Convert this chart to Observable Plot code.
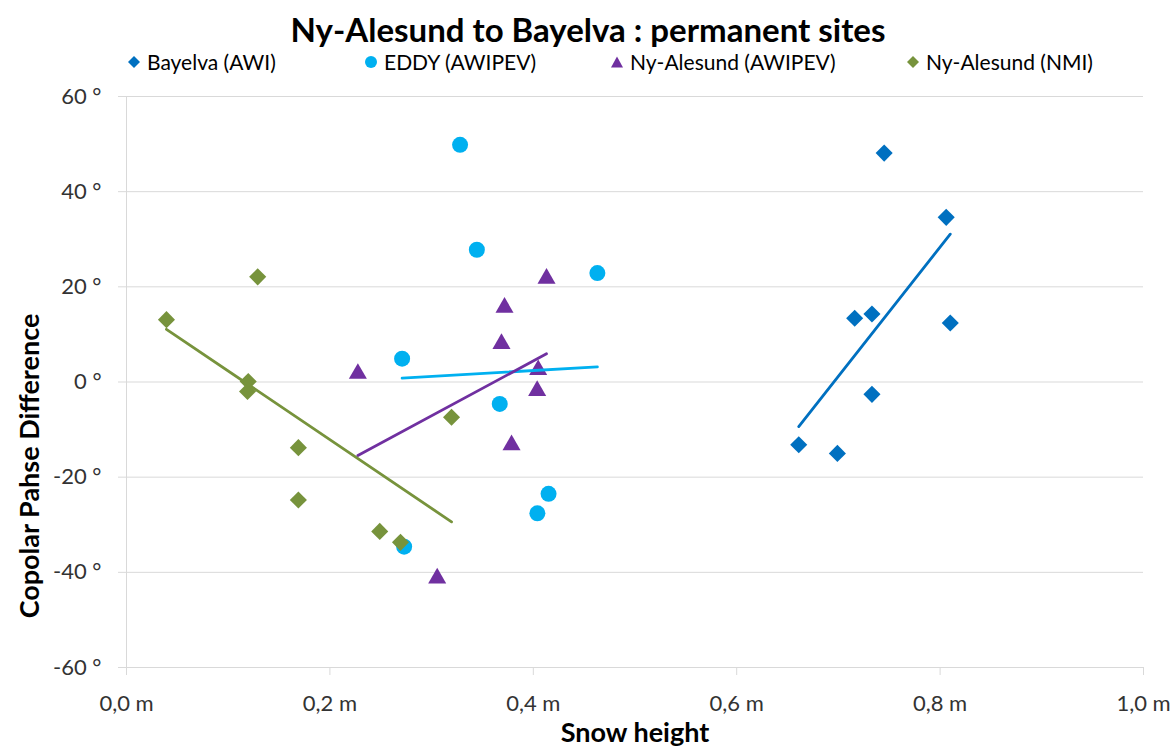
<!DOCTYPE html>
<html><head><meta charset="utf-8">
<script src="https://cdn.jsdelivr.net/npm/d3@7"></script>
<script src="https://cdn.jsdelivr.net/npm/@observablehq/plot@0.6"></script>
<style>
body{margin:0;background:#fff;font-family:Lato,"Open Sans",sans-serif;}
#wrap{position:relative;width:1176px;height:751px;overflow:hidden;background:#fff}
#title{position:absolute;top:9px;left:0;width:1176px;text-align:center;font-weight:bold;font-size:33px;line-height:40px;color:#000}
.leg{position:absolute;top:49px;height:26px;line-height:26px;font-size:21px;color:#000;white-space:nowrap}
.leg svg{position:absolute;top:7px}
#chart{position:absolute;top:78px;left:0}
</style></head>
<body><div id="wrap">
<div id="title">Ny-Alesund to Bayelva : permanent sites</div>
<div id="legend"></div>
<div id="chart"></div>
</div>
<script>
// Data
const seriesNames = ["Bayelva (AWI)", "EDDY (AWIPEV)", "Ny-Alesund (AWIPEV)", "Ny-Alesund (NMI)"];
const seriesColors = ["#0070C0", "#00B0F0", "#7030A0", "#77933C"];
const bayelvaX = [0.745, 0.806, 0.716, 0.733, 0.810, 0.733, 0.661, 0.699];
const bayelvaY = [48.1, 34.6, 13.4, 14.3, 12.4, -2.6, -13.2, -15.0];
const eddyX = [0.328, 0.3445, 0.463, 0.271, 0.367, 0.415, 0.404, 0.273];
const eddyY = [49.85, 27.8, 22.9, 4.9, -4.6, -23.5, -27.6, -34.6];
const awipevX = [0.2275, 0.413, 0.3717, 0.3687, 0.4048, 0.4038, 0.3786, 0.3055];
const awipevY = [2.3, 22.3, 16.2, 8.6, 3.1, -1.3, -12.7, -40.7];
const nmiX = [0.0393, 0.129, 0.1197, 0.119, 0.169, 0.169, 0.249, 0.2694, 0.3196];
const nmiY = [13.1, 22.1, 0.1, -2.0, -13.8, -24.8, -31.4, -33.7, -7.4];
const xTicks = [0, 0.2, 0.4, 0.6, 0.8, 1.0];
const yTicks = [-60, -40, -20, 0, 20, 40, 60];
const xTitle = "Snow height";
const yTitle = "Copolar Pahse Difference";

const toRows = (xs, ys) => xs.map((x, i) => ({x, y: ys[i]}));
const bayelva = toRows(bayelvaX, bayelvaY);
const eddy = toRows(eddyX, eddyY);
const awipev = toRows(awipevX, awipevY);
const nmi = toRows(nmiX, nmiY);

const fmtX = d => d.toFixed(1).replace(".", ",") + " m";
const fmtY = d => String(d) + " °";

const plot = Plot.plot({
  width: 1176, height: 673,
  marginTop: 18, marginBottom: 84, marginLeft: 126, marginRight: 33,
  x: {domain: [0, 1]},
  y: {domain: [-60, 60]},
  style: {fontFamily: "Lato, 'Open Sans', sans-serif", fontSize: "22px", color: "#404040", background: "white"},
  marks: [
    Plot.gridY(yTicks, {stroke: "#d9d9d9", strokeOpacity: 1, strokeWidth: 1}),
    Plot.ruleX([0], {stroke: "#d9d9d9", strokeWidth: 1}),
    Plot.axisX(xTicks, {tickSize: 8, tickPadding: 20, stroke: "#d9d9d9", fill: "#333", tickFormat: fmtX, label: null}),
    Plot.axisY(yTicks, {tickSize: 8, tickPadding: 17, stroke: "#d9d9d9", fill: "#333", tickFormat: fmtY, label: null}),
    Plot.dot(bayelva, {x: "x", y: "y", symbol: "diamond2", r: 7.7, fill: seriesColors[0]}),
    Plot.dot(eddy, {x: "x", y: "y", symbol: "circle", r: 8, fill: seriesColors[1]}),
    Plot.dot(awipev, {x: "x", y: "y", symbol: "triangle", r: 6.7, dy: 2.6, fill: seriesColors[2]}),
    Plot.dot(nmi, {x: "x", y: "y", symbol: "diamond2", r: 7.7, fill: seriesColors[3]}),
    Plot.linearRegressionY(bayelva, {x: "x", y: "y", stroke: seriesColors[0], strokeWidth: 2.8, ci: 0}),
    Plot.linearRegressionY(eddy, {x: "x", y: "y", stroke: seriesColors[1], strokeWidth: 2.8, ci: 0}),
    Plot.linearRegressionY(awipev, {x: "x", y: "y", stroke: seriesColors[2], strokeWidth: 2.8, ci: 0}),
    Plot.linearRegressionY(nmi, {x: "x", y: "y", stroke: seriesColors[3], strokeWidth: 2.8, ci: 0})
  ]
});

const svg = d3.select(plot);
svg.append("text").text(xTitle)
  .attr("x", 635).attr("y", 664).attr("text-anchor", "middle")
  .attr("font-weight", "bold").attr("font-size", 27).attr("fill", "#000");
svg.append("text").text(yTitle)
  .attr("transform", "translate(32,388) rotate(-90)").attr("text-anchor", "middle").attr("dominant-baseline", "middle")
  .attr("font-weight", "bold").attr("font-size", 27).attr("fill", "#000");
document.getElementById("chart").appendChild(plot);

// Legend
const legX = [128, 365, 611, 907];
const symbols = ["diamond", "circle", "triangle", "diamond"];
const leg = document.getElementById("legend");
seriesNames.forEach((name, i) => {
  const div = document.createElement("div");
  div.className = "leg";
  div.style.left = legX[i] + "px";
  div.style.paddingLeft = "19px";
  let shape;
  if (symbols[i] === "diamond") shape = `<polygon points="6,0 12,6 6,12 0,6" fill="${seriesColors[i]}"/>`;
  else if (symbols[i] === "circle") shape = `<circle cx="6" cy="6" r="6" fill="${seriesColors[i]}"/>`;
  else shape = `<polygon points="6,0.5 12,11.5 0,11.5" fill="${seriesColors[i]}"/>`;
  div.innerHTML = `<svg width="12" height="12" style="left:0">${shape}</svg>${name}`;
  leg.appendChild(div);
});
</script>
</body></html>
